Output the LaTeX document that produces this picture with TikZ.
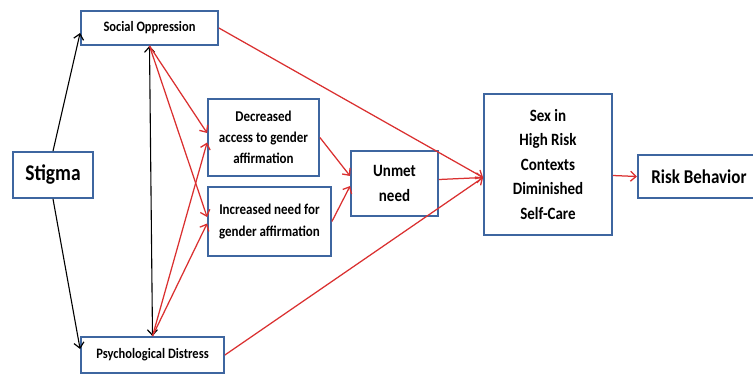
\documentclass[tikz,border=0pt]{standalone}
\usepackage{fontspec}
\usepackage{graphicx}
\setmainfont{Carlito}
\usetikzlibrary{arrows.meta}
\definecolor{boxblue}{RGB}{62,102,160}
\definecolor{arrred}{RGB}{218,48,48}
\newcommand{\vst}[1]{\scalebox{1}[1.15]{#1}}
\begin{document}
\begin{tikzpicture}[x=1pt,y=-1pt,
  box/.style={draw=boxblue,line width=1.8pt,fill=white,align=center,inner sep=0pt,font=\bfseries},
  rarr/.style={draw=arrred,line width=1.25pt,-{Straight Barb[length=5.5pt,width=10pt,line width=1.3pt]}},
  barr/.style={draw=black,line width=1.1pt,-{Straight Barb[length=5.5pt,width=10pt,line width=1.2pt]}}]
\useasboundingbox (0,0) rectangle (753,376);
\node[box,minimum width=137pt,minimum height=34pt,font=\bfseries\fontsize{12.5}{15}\selectfont] (soc) at (149.5,28) {\vst{Social Oppression}};
\node[box,minimum width=80pt,minimum height=46pt,font=\bfseries\fontsize{19.5}{23}\selectfont] (stig) at (53,175) {\vst{Stigma}};
\node[box,minimum width=143pt,minimum height=36pt,font=\bfseries\fontsize{12.5}{15}\selectfont] (psy) at (152.5,355) {\vst{Psychological Distress}};
\node[box,minimum width=111pt,minimum height=77pt,font=\bfseries\fontsize{13}{21}\selectfont] (dec) at (263.5,137.5) {\vst{Decreased}\\\vst{access to gender}\\\vst{affirmation}};
\node[box,minimum width=123pt,minimum height=69pt,font=\bfseries\fontsize{13}{22}\selectfont] (inc) at (269.5,221.5) {\vst{Increased need for}\\\vst{gender affirmation}};
\node[box,minimum width=87pt,minimum height=65pt,font=\bfseries\fontsize{15}{25}\selectfont] (unm) at (394.5,183.5) {\vst{Unmet}\\\vst{need}};
\node[box,minimum width=128pt,minimum height=141pt,font=\bfseries\fontsize{15}{24.5}\selectfont] (sex) at (548,164.5) {\vst{Sex in}\\\vst{High Risk}\\\vst{Contexts}\\\vst{Diminished}\\\vst{Self-Care}};
\node[box,minimum width=122pt,minimum height=43pt,anchor=west,font=\bfseries\fontsize{17}{20}\selectfont] (risk) at (637,176.5) {\vst{Risk Behavior}};
\coordinate (conv) at ([yshift=-13pt]sex.west);
% black arrows
\draw[barr] (stig.north) -- ([yshift=-5pt]soc.west);
\draw[barr] (stig.south) -- ([yshift=6pt]psy.west);
\draw[barr,{Straight Barb[length=5.5pt,width=10pt,line width=1.2pt]}-{Straight Barb[length=5.5pt,width=10pt,line width=1.2pt]}] (soc.south) -- (psy.north);
% red arrows
\draw[rarr] (soc.south) -- ([yshift=4.5pt]dec.west);
\draw[rarr] (soc.south) -- ([yshift=4.5pt]inc.west);
\draw[rarr] (psy.north) -- ([yshift=-5pt]dec.west);
\draw[rarr] (psy.north) -- ([yshift=-2pt]inc.west);
\draw[rarr] (soc.east) -- (conv);
\draw[rarr] (psy.east) -- (conv);
\draw[rarr] ([yshift=4pt]unm.east) -- (conv);
\draw[rarr] (dec.east) -- ([yshift=7.5pt]unm.west);
\draw[rarr] (inc.east) -- ([yshift=-2.5pt]unm.west);
\draw[rarr] ([yshift=-11pt]sex.east) -- (risk.west);
\end{tikzpicture}
\end{document}
